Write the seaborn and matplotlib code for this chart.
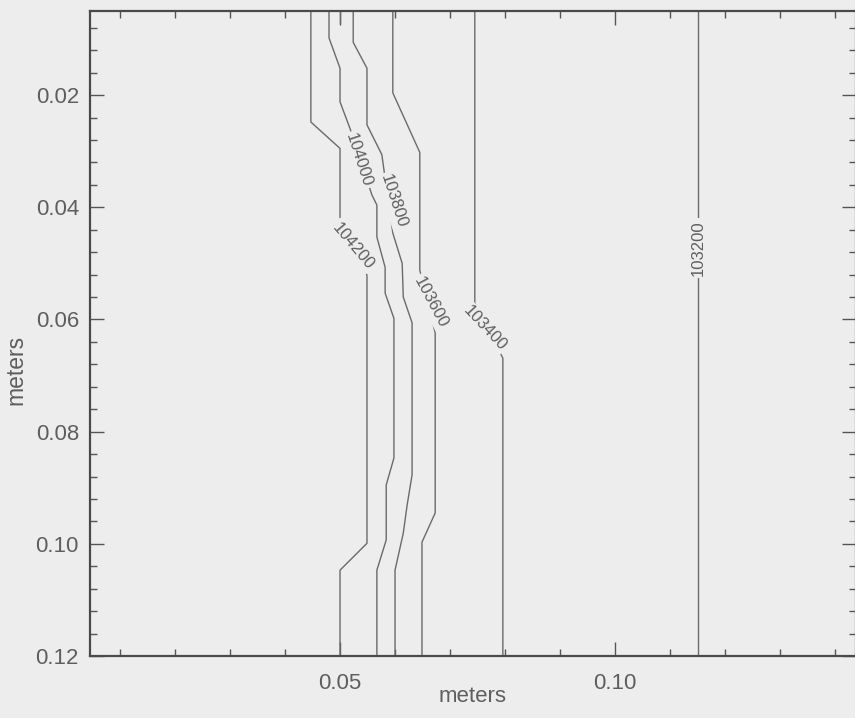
import numpy as np
import pandas as pd
import matplotlib
matplotlib.use("Agg")
import matplotlib.pyplot as plt
from matplotlib.ticker import MultipleLocator, FormatStrFormatter
import seaborn as sns

# ---------------- data: isobars (Pa) traced in the x-y plane (m) ----------------
levels = [104200, 104000, 103800, 103600, 103400, 103200]

iso_104200_x = [0.0447, 0.0447, 0.0500, 0.0500, 0.0549, 0.0549, 0.0500, 0.0500]
iso_104200_y = [0.0050, 0.0248, 0.0295, 0.0418, 0.0521, 0.0999, 0.1047, 0.1200]

iso_104000_x = [0.0480, 0.0480, 0.0500, 0.0500, 0.0518, 0.0558, 0.0567, 0.0567,
                0.0582, 0.0582, 0.0598, 0.0598, 0.0584, 0.0584, 0.0567, 0.0567]
iso_104000_y = [0.0050, 0.0098, 0.0152, 0.0212, 0.0259, 0.0378, 0.0396, 0.0453,
                0.0507, 0.0553, 0.0598, 0.0847, 0.0895, 0.0993, 0.1047, 0.1200]

iso_104000b_x = [0.0500, 0.0500]
iso_104000b_y = [0.0050, 0.0072]

iso_103800_x = [0.0524, 0.0524, 0.0549, 0.0549, 0.0576, 0.0596, 0.0613, 0.0615,
                0.0631, 0.0631, 0.0622, 0.0615, 0.0600, 0.0600]
iso_103800_y = [0.0050, 0.0106, 0.0152, 0.0253, 0.0306, 0.0446, 0.0500, 0.0560,
                0.0606, 0.0877, 0.0931, 0.0981, 0.1047, 0.1200]

iso_103600_x = [0.0596, 0.0596, 0.0645, 0.0645, 0.0673, 0.0673, 0.0649, 0.0649]
iso_103600_y = [0.0050, 0.0196, 0.0302, 0.0512, 0.0624, 0.0945, 0.0997, 0.1200]

iso_103400_x = [0.0745, 0.0745, 0.0796, 0.0796]
iso_103400_y = [0.0050, 0.0571, 0.0669, 0.1200]

iso_103200_x = [0.1151, 0.1151]
iso_103200_y = [0.0050, 0.1200]

pieces = [
    (104200, iso_104200_x, iso_104200_y),
    (104000, iso_104000_x, iso_104000_y),
    (104000, iso_104000b_x, iso_104000b_y),
    (103800, iso_103800_x, iso_103800_y),
    (103600, iso_103600_x, iso_103600_y),
    (103400, iso_103400_x, iso_103400_y),
    (103200, iso_103200_x, iso_103200_y),
]
frames = []
for i, (lev, xs, ys) in enumerate(pieces):
    frames.append(pd.DataFrame({"x": xs, "y": ys, "level": lev, "piece": i}))
df = pd.concat(frames, ignore_index=True)

# contour label placement (x, y, rotation) -- style
label_place = {
    104200: (0.0524, 0.0469, -50),
    104000: (0.0534, 0.0316, -72),
    103800: (0.0597, 0.0389, -72),
    103600: (0.0665, 0.0569, -62),
    103400: (0.0764, 0.0615, -47),
    103200: (0.1151, 0.0473, 90),
}

# ---------------- style ----------------
sns.set_theme(style="ticks")
bg = "#ededed"
txt = "#5e5e5e"
plt.rcParams["font.family"] = ["Liberation Sans", "DejaVu Sans"]

fig = plt.figure(figsize=(8.55, 7.18), dpi=100, facecolor=bg)
ax = fig.add_axes([90 / 855, 62 / 718, 766 / 855, 645 / 718])
ax.set_facecolor(bg)

sns.lineplot(data=df, x="x", y="y", units="piece", estimator=None, sort=False,
             color="#6a6a6a", linewidth=1.0, ax=ax, legend=False)

ax.set_xlim(0.00455, 0.1438)
ax.set_ylim(0.1200, 0.0050)

for k, lev in enumerate(levels):
    lx, ly, rot = label_place[lev]
    ax.text(lx, ly, f"{lev}", rotation=rot, rotation_mode="anchor",
            ha="center", va="center", fontsize=12, color=txt,
            bbox=dict(boxstyle="square,pad=0.12", fc=bg, ec="none"),
            zorder=5 + k)

ax.xaxis.set_major_locator(MultipleLocator(0.05))
ax.xaxis.set_minor_locator(MultipleLocator(0.01))
ax.yaxis.set_major_locator(MultipleLocator(0.02))
ax.yaxis.set_minor_locator(MultipleLocator(0.004))
ax.xaxis.set_major_formatter(FormatStrFormatter("%.2f"))
ax.yaxis.set_major_formatter(FormatStrFormatter("%.2f"))

ax.tick_params(which="both", direction="in", top=True, right=True,
               colors="#555555", labelcolor=txt, labelsize=16)
ax.tick_params(which="major", length=10, width=1.0)
ax.tick_params(which="minor", length=5, width=1.0)
ax.tick_params(axis="y", which="major", pad=8)
ax.tick_params(axis="x", which="major", pad=12)

for s in ax.spines.values():
    s.set_color("#4a4a4a")
    s.set_linewidth(1.6)

ax.set_xlabel("meters", fontsize=16, color=txt)
ax.xaxis.set_label_coords(0.5, -0.047)
ax.set_ylabel("meters", fontsize=16.5, color=txt)
ax.yaxis.set_label_coords(-0.082, 0.443)

fig.savefig("out.png", dpi=100, facecolor=bg)
